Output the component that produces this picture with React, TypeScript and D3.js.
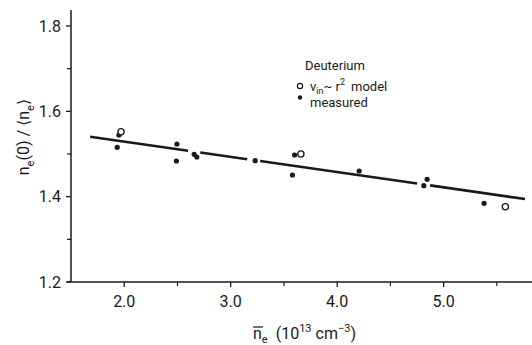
import React from "react";
import * as d3 from "d3";

const xTicksMajor = [2.0, 3.0, 4.0, 5.0];
const xTicksMinor = [2.5, 3.5, 4.5, 5.5];
const yTicksMajor = [1.2, 1.4, 1.6, 1.8];
const yTicksMinor = [1.3, 1.5, 1.7];

const measuredX = [1.95, 1.934, 2.495, 2.49, 2.657, 2.682, 3.23, 3.58, 3.60, 4.207, 4.845, 4.814, 5.38];
const measuredY = [1.5445, 1.5157, 1.5234, 1.4836, 1.4992, 1.493, 1.4843, 1.4508, 1.4976, 1.4601, 1.4407, 1.4257, 1.3844];

const modelX = [1.97, 3.659, 5.58];
const modelY = [1.552, 1.50, 1.3765];

const fitX = [1.68, 5.765];
const fitY = [1.5405, 1.3945];
const fitBreaks: [number, number][] = [
  [2.6, 2.714],
  [3.155, 3.277],
  [4.751, 4.873],
];

const W = 532;
const H = 345;
const FONT = "Roboto, 'DejaVu Sans', sans-serif";
const INK = "#1a1a1a";

export default function App() {
  const x = d3.scaleLinear().domain([1.5, 5.83]).range([71, 532]);
  const y = d3.scaleLinear().domain([1.2, 1.8]).range([282, 26]);
  const yTop = y.invert(10);

  const fit = d3.scaleLinear().domain(fitX).range(fitY);
  const edges: number[] = [fitX[0]];
  fitBreaks.forEach(([a, b]) => {
    edges.push(a, b);
  });
  edges.push(fitX[1]);
  const segs: [number, number][] = [];
  for (let i = 0; i < edges.length; i += 2) segs.push([edges[i], edges[i + 1]]);
  const line = d3
    .line<number>()
    .x((d) => x(d))
    .y((d) => y(fit(d)));

  return (
    <svg
      width={W}
      height={H}
      style={{ position: "absolute", left: 0, top: 0, background: "#fff" }}
      fontFamily={FONT}
    >
      {/* axes */}
      <line x1={x(1.5)} x2={x(1.5)} y1={y(yTop)} y2={y(1.2)} stroke={INK} strokeWidth={1.5} />
      <line x1={x(1.5) - 4} x2={W} y1={y(1.2)} y2={y(1.2)} stroke={INK} strokeWidth={1.5} />
      {yTicksMajor.map((t) => (
        <g key={"ym" + t}>
          <line x1={x(1.5) - 5} x2={x(1.5)} y1={y(t)} y2={y(t)} stroke={INK} strokeWidth={1.3} />
          <text x={61} y={y(t)} dy="0.36em" textAnchor="end" fontSize={16} fill={INK}>
            {t.toFixed(1)}
          </text>
        </g>
      ))}
      {yTicksMinor.map((t) => (
        <line key={"yn" + t} x1={x(1.5) - 4} x2={x(1.5)} y1={y(t)} y2={y(t)} stroke={INK} strokeWidth={1.2} />
      ))}
      {xTicksMajor.map((t) => (
        <g key={"xm" + t}>
          <line x1={x(t)} x2={x(t)} y1={y(1.2)} y2={y(1.2) + 5} stroke={INK} strokeWidth={1.3} />
          <text x={x(t)} y={306.5} textAnchor="middle" fontSize={16} fill={INK}>
            {t.toFixed(1)}
          </text>
        </g>
      ))}
      {xTicksMinor.map((t) => (
        <line key={"xn" + t} x1={x(t)} x2={x(t)} y1={y(1.2)} y2={y(1.2) + 4} stroke={INK} strokeWidth={1.2} />
      ))}

      {/* x label */}
      <g fontSize={16} fill={INK}>
        <text x={253} y={339}>
          n
          <tspan fontSize={11} dy={4}>e</tspan>
          <tspan dy={-4} dx={8}>(10</tspan>
          <tspan fontSize={11} dy={-7}>13</tspan>
          <tspan dy={7} dx={4}>cm</tspan>
          <tspan fontSize={11} dy={-7}>−3</tspan>
          <tspan dy={7}>)</tspan>
        </text>
        <line x1={253} x2={263} y1={327} y2={327} stroke={INK} strokeWidth={1.2} />
      </g>

      {/* y label */}
      <text
        transform={`translate(29,137) rotate(-90)`}
        textAnchor="middle"
        fontSize={16}
        fill={INK}
      >
        n<tspan fontSize={11} dy={5}>e</tspan>
        <tspan dy={-5}>(0) / ⟨n</tspan>
        <tspan fontSize={11} dy={5}>e</tspan>
        <tspan dy={-5}>⟩</tspan>
      </text>

      {/* fit line */}
      {segs.map((s, i) => (
        <path key={"f" + i} d={line(s) || ""} stroke={INK} strokeWidth={2.6} fill="none" />
      ))}

      {/* points */}
      {measuredX.map((v, i) => (
        <circle key={"m" + i} cx={x(v)} cy={y(measuredY[i])} r={2.6} fill={INK} />
      ))}
      {modelX.map((v, i) => (
        <circle key={"o" + i} cx={x(v)} cy={y(modelY[i])} r={3.1} fill="#fff" stroke={INK} strokeWidth={1.3} />
      ))}

      {/* legend */}
      <g fontSize={13} fill={INK}>
        <text x={305} y={70}>Deuterium</text>
        <circle cx={300} cy={86} r={2.6} fill="none" stroke={INK} strokeWidth={1.2} />
        <text x={310} y={91}>
          v<tspan fontSize={9} dy={2.5}>in</tspan>
          <tspan dy={-2.5}>~ r</tspan>
          <tspan fontSize={9} dy={-6}>2</tspan>
          <tspan dy={6} dx={6}>model</tspan>
        </text>
        <circle cx={300} cy={97.5} r={2.2} fill={INK} />
        <text x={310} y={107}>measured</text>
      </g>
    </svg>
  );
}
